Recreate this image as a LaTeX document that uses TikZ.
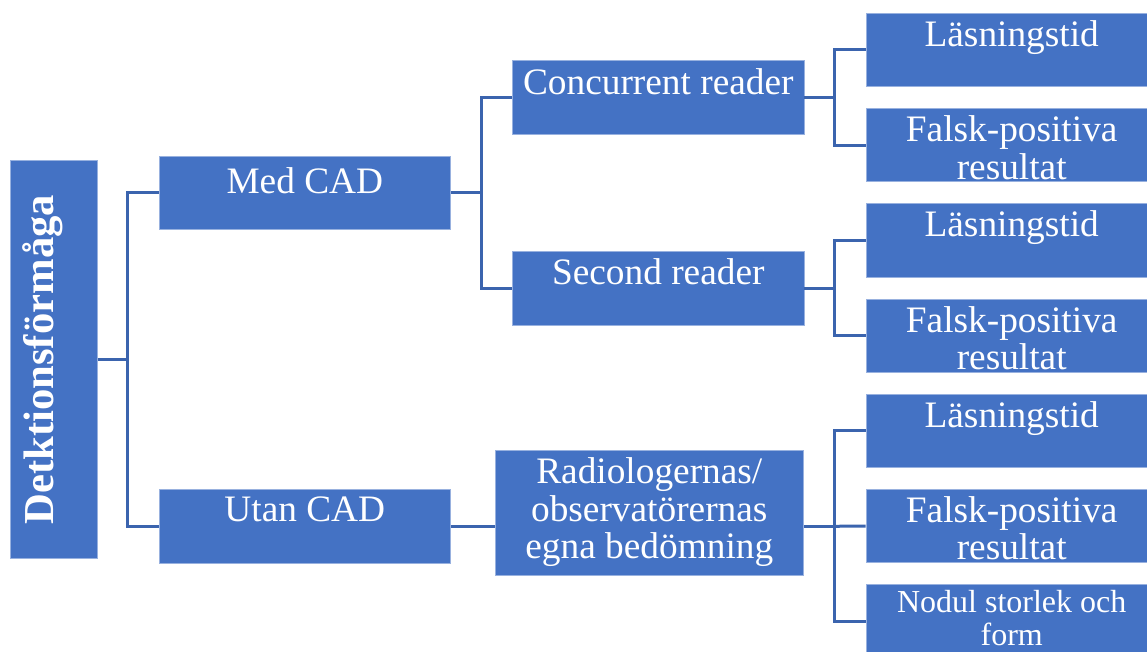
\documentclass[tikz,border=0pt]{standalone}
\usepackage{fontspec}
\setmainfont{Liberation Serif}
\usetikzlibrary{positioning}
\definecolor{boxblue}{HTML}{4472C4}
\definecolor{linkblue}{HTML}{3B64AE}

\begin{document}
\begin{tikzpicture}[x=0.75pt, y=-0.75pt,
    box/.style={fill=boxblue, draw=boxblue!55!white, line width=0.6pt,
        minimum width=218.6pt, minimum height=55pt, inner sep=0pt},
    boxtext/.style={text=white, font=\fontsize{28}{28}\selectfont,
        align=center, inner sep=0pt},
    smalltext/.style={font=\fontsize{24}{24.75}\selectfont},
    link/.style={draw=linkblue, line width=2.25pt}]
    \useasboundingbox (0,0) rectangle (1147,652);
    \clip (0,0) rectangle (1147,652);

    \node[box, minimum width=65pt, minimum height=298.5pt] (root) at (54,359.7) {};
    \node[boxtext, font=\bfseries\fontsize{32}{32}\selectfont, rotate=90, anchor=base] (root-t) at ([xshift=-0.75pt]root.center) {Detktionsförmåga};

    \node[box] (med) at (304.8,192.7) {};
    \node[boxtext, below=8.4pt of med.north] (med-t) {Med CAD};
    \node[box] (utan) at (304.8,526.3) {};
    \node[boxtext, below=5.6pt of utan.north] (utan-t) {Utan CAD};

    \node[box] (conc) at (658.3,97.5) {};
    \node[boxtext, below=5.6pt of conc.north] (conc-t) {Concurrent reader};
    \node[box] (second) at (658.3,288.3) {};
    \node[boxtext, below=5.6pt of second.north] (second-t) {Second reader};
    \node[box, minimum width=231.4pt, minimum height=93.2pt] (radio) at (649.3,512.8) {};
    \node[boxtext, below=5.6pt of radio.north] (radio-t) {Radiologernas/\\observatörernas\\egna bedömning};

    \node[box] (l1) at (1011.7,50) {};
    \node[boxtext, below=5.6pt of l1.north] (l1-t) {Läsningstid};
    \node[box] (l2) at (1011.7,145.2) {};
    \node[boxtext, below=5.6pt of l2.north] (l2-t) {Falsk-positiva\\resultat};
    \node[box] (l3) at (1011.7,240.4) {};
    \node[boxtext, below=5.6pt of l3.north] (l3-t) {Läsningstid};
    \node[box] (l4) at (1011.7,335.6) {};
    \node[boxtext, below=5.6pt of l4.north] (l4-t) {Falsk-positiva\\resultat};
    \node[box] (l5) at (1011.7,430.8) {};
    \node[boxtext, below=5.6pt of l5.north] (l5-t) {Läsningstid};
    \node[box] (l6) at (1011.7,526) {};
    \node[boxtext, below=5.6pt of l6.north] (l6-t) {Falsk-positiva\\resultat};
    \node[box] (l7) at (1011.7,621.2) {};
    \node[boxtext, smalltext, below=4.6pt of l7.north] (l7-t) {Nodul storlek och\\form};

    \coordinate (j1) at (127.7,359.7);
    \coordinate (j2) at (481.3,192.7);
    \coordinate (j3) at (834.3,97.5);
    \coordinate (j4) at (834.3,288.3);
    \coordinate (j5) at (834.3,526.3);

    \draw[link] (root.east) -- (j1);
    \draw[link] (j1) |- (med.west);
    \draw[link] (j1) |- (utan.west);

    \draw[link] (med.east) -- (j2);
    \draw[link] (j2) |- (conc.west);
    \draw[link] (j2) |- (second.west);

    \draw[link] (conc.east) -- (j3);
    \draw[link] (j3) |- (l1.west);
    \draw[link] (j3) |- (l2.west);

    \draw[link] (second.east) -- (j4);
    \draw[link] (j4) |- (l3.west);
    \draw[link] (j4) |- (l4.west);

    \draw[link] (utan.east) -- (utan.east -| radio.west);
    \draw[link] (j5 -| radio.east) -- (j5);
    \draw[link] (j5) |- (l5.west);
    \draw[link] (j5) -- (l6.west);
    \draw[link] (j5) |- (l7.west);
\end{tikzpicture}
\end{document}
